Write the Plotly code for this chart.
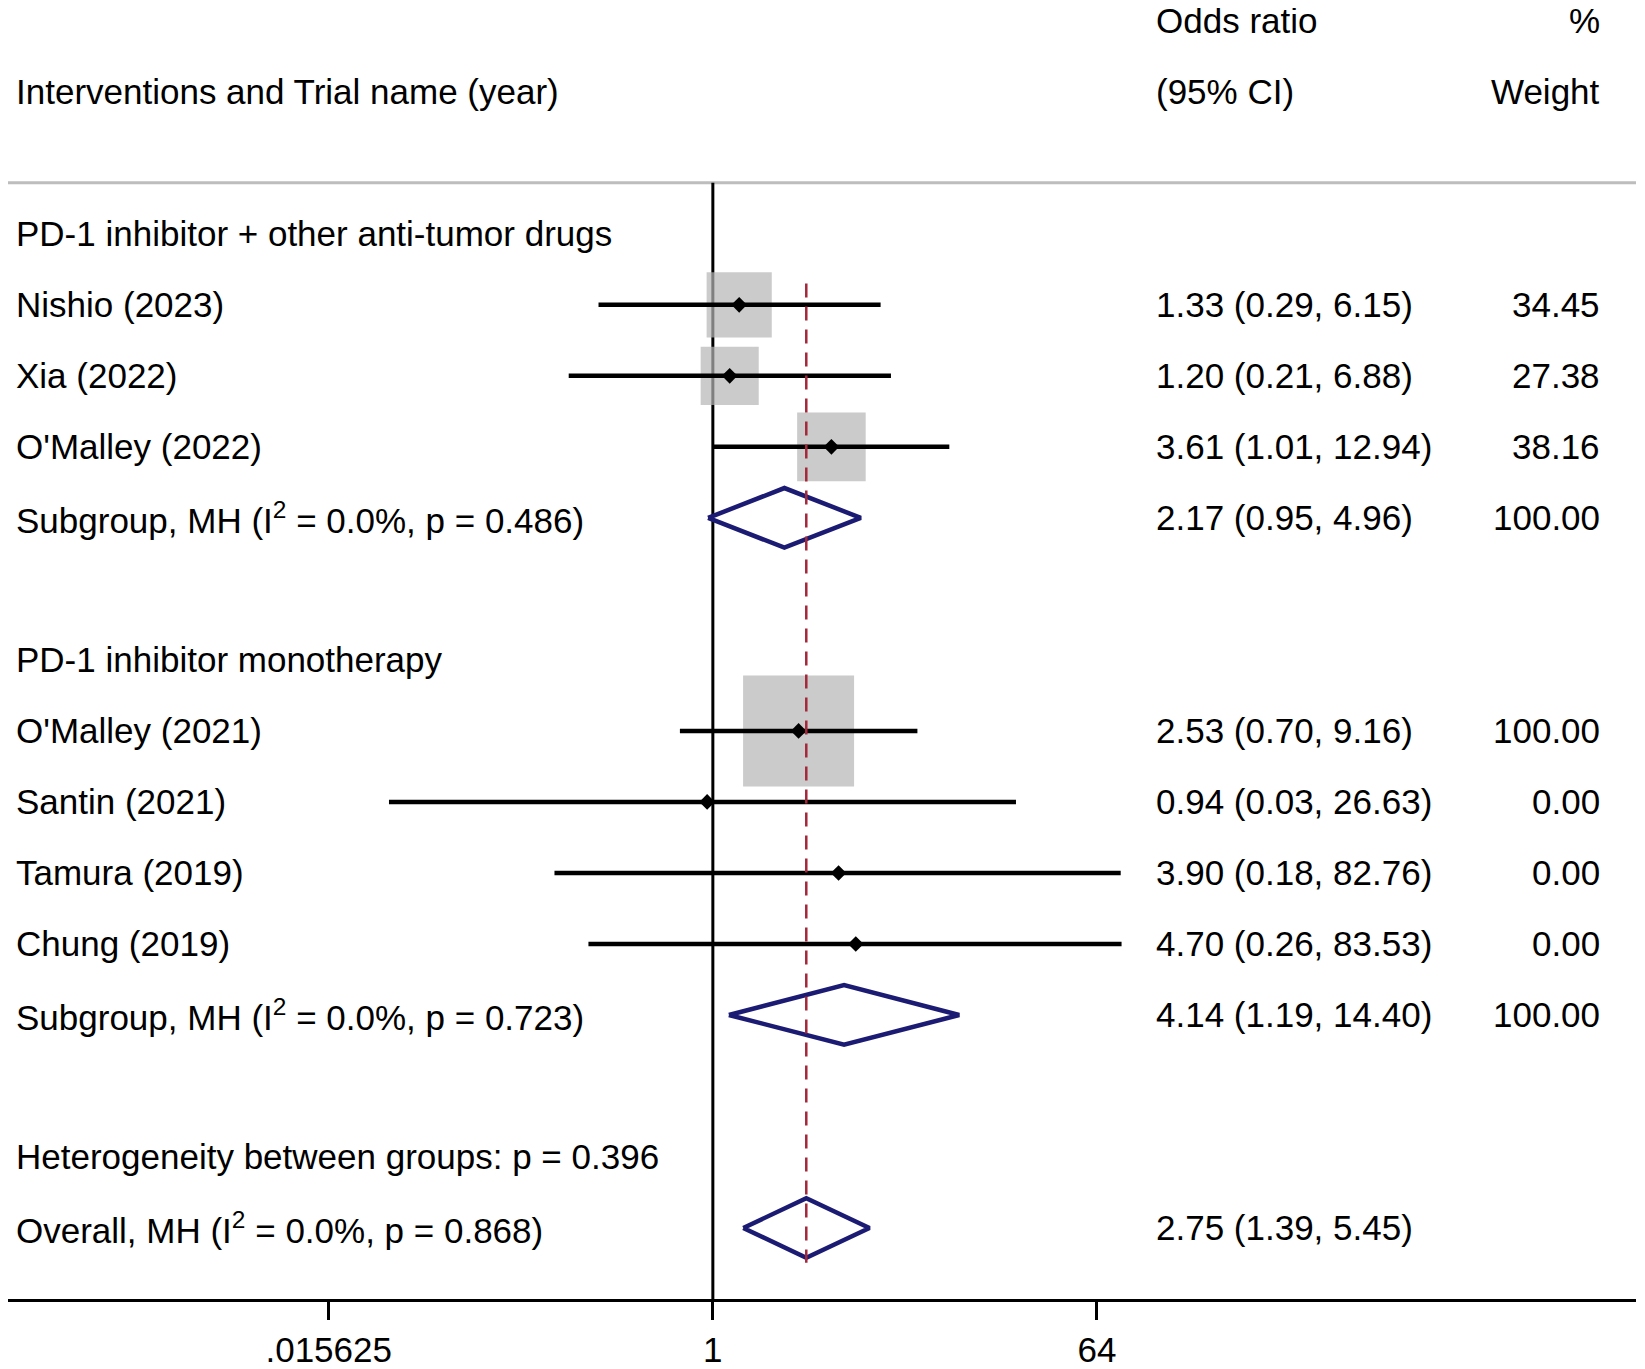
import numpy as np
import plotly.graph_objects as go

# rows of the forest plot (row index from the top)
labels = ["PD-1 inhibitor + other anti-tumor drugs",
          "Nishio (2023)", "Xia (2022)", "O'Malley (2022)",
          "Subgroup, MH (I<sup>2</sup> = 0.0%, p = 0.486)",
          "PD-1 inhibitor monotherapy",
          "O'Malley (2021)", "Santin (2021)", "Tamura (2019)", "Chung (2019)",
          "Subgroup, MH (I<sup>2</sup> = 0.0%, p = 0.723)",
          "Heterogeneity between groups: p = 0.396",
          "Overall, MH (I<sup>2</sup> = 0.0%, p = 0.868)"]
label_rows = [0, 1, 2, 3, 4, 6, 7, 8, 9, 10, 11, 13, 14]

# individual trials
study_rows = [1, 2, 3, 7, 8, 9, 10]
study_or = [1.33, 1.20, 3.61, 2.53, 0.94, 3.90, 4.70]
study_lo = [0.29, 0.21, 1.01, 0.70, 0.03, 0.18, 0.26]
study_hi = [6.15, 6.88, 12.94, 9.16, 26.63, 82.76, 83.53]
study_w = [34.45, 27.38, 38.16, 100.00, 0.00, 0.00, 0.00]

# pooled estimates (subgroups + overall)
pool_rows = [4, 11, 14]
pool_or = [2.17, 4.14, 2.75]
pool_lo = [0.95, 1.19, 1.39]
pool_hi = [4.96, 14.40, 5.45]
pool_w = [100.00, 100.00, None]

tick_vals = [0.015625, 1, 64]
tick_text = [".015625", "1", "64"]

FONT = "Liberation Sans, Arial, sans-serif"
FS = 35
navy = "#1b1b74"

fig = go.Figure()

# weight boxes (area ~ weight)
bx, by, bs = [], [], []
for r, o, w in zip(study_rows, study_or, study_w):
    if w > 0:
        bx.append(o); by.append(r); bs.append(11.1 * np.sqrt(w))
fig.add_trace(go.Scatter(x=bx, y=by, mode="markers",
                         marker=dict(symbol="square", size=bs, color="#b5b5b5",
                                     line=dict(width=0)),
                         hoverinfo="skip"))

# CI lines
for r, lo, hi in zip(study_rows, study_lo, study_hi):
    fig.add_trace(go.Scatter(x=[lo, hi], y=[r, r], mode="lines",
                             line=dict(color="black", width=4.5), hoverinfo="skip"))

# point estimates
fig.add_trace(go.Scatter(x=study_or, y=study_rows, mode="markers",
                         marker=dict(symbol="diamond", size=12, color="black"),
                         hoverinfo="skip"))

# pooled diamonds
h = 0.42
for r, o, lo, hi in zip(pool_rows, pool_or, pool_lo, pool_hi):
    fig.add_trace(go.Scatter(x=[lo, o, hi, o, lo], y=[r, r - h, r, r + h, r],
                             mode="lines", fill="toself", fillcolor="white",
                             line=dict(color=navy, width=4.5), hoverinfo="skip"))

# reference lines
fig.add_shape(type="line", xref="paper", x0=0, x1=1, y0=-0.72, y1=-0.72,
              line=dict(color="#bdbdbd", width=3), layer="below")
fig.add_shape(type="line", x0=1, x1=1, y0=-0.72, y1=15,
              line=dict(color="black", width=3), layer="below")
fig.add_shape(type="line", x0=pool_or[-1], x1=pool_or[-1], y0=0.7, y1=14.49,
              line=dict(color="#a3283a", width=2.5, dash="14px,9px"))

# text columns
def txt(x, y, s, anchor):
    fig.add_annotation(x=x, y=y, xref="paper", yref="y", text=s, showarrow=False,
                       xanchor=anchor, yanchor="middle", borderpad=0,
                       font=dict(family=FONT, size=FS, color="black"))

lx, cx, wx = 0.0045, 0.7043, 0.9787
txt(lx, -2, "Interventions and Trial name (year)", "left")
txt(cx, -3, "Odds ratio", "left")
txt(cx, -2, "(95% CI)", "left")
txt(wx, -3, "%", "right")
txt(wx, -2, "Weight", "right")
for r, s in zip(label_rows, labels):
    txt(lx, r, s, "left")
for r, o, lo, hi, w in zip(study_rows, study_or, study_lo, study_hi, study_w):
    txt(cx, r, "%.2f (%.2f, %.2f)" % (o, lo, hi), "left")
    txt(wx, r, "%.2f" % w, "right")
for r, o, lo, hi, w in zip(pool_rows, pool_or, pool_lo, pool_hi, pool_w):
    txt(cx, r, "%.2f (%.2f, %.2f)" % (o, lo, hi), "left")
    if w is not None:
        txt(wx, r, "%.2f" % w, "right")

lg2 = np.log10(2)
fig.update_layout(
    width=1630, height=1361,
    margin=dict(l=0, r=2, t=0, b=64),
    paper_bgcolor="white", plot_bgcolor="white",
    showlegend=False,
    xaxis=dict(type="log", range=[-11.01 * lg2, 14.42 * lg2],
               tickvals=tick_vals, ticktext=tick_text,
               ticks="outside", ticklen=18, tickwidth=2.5, tickcolor="black",
               showline=True, linecolor="black", linewidth=3,
               showgrid=False, zeroline=False,
               tickfont=dict(family=FONT, size=FS, color="black")),
    yaxis=dict(range=[15.0, -3.18], visible=False, showgrid=False, zeroline=False),
)

fig.write_html("out.html")
